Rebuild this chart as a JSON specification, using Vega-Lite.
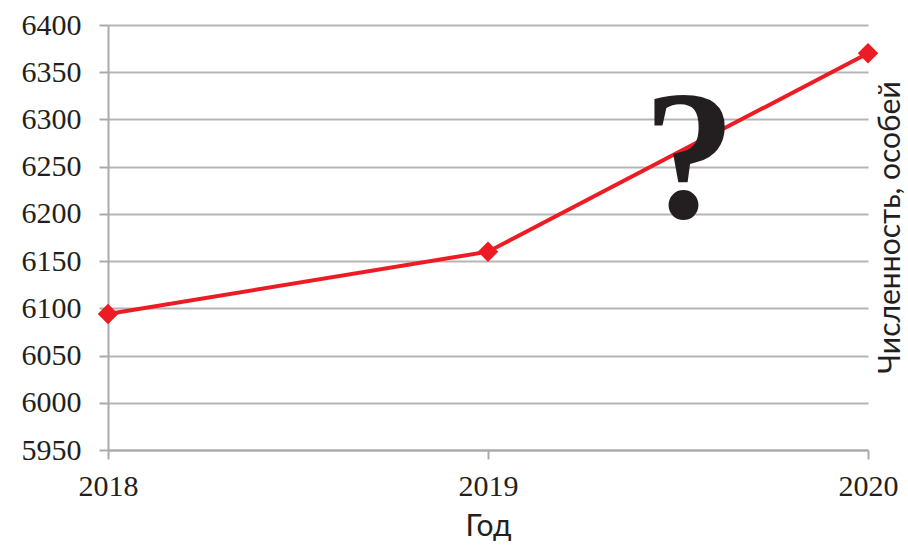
{
  "$schema": "https://vega.github.io/schema/vega-lite/v6.json",
  "width": 760,
  "height": 425,
  "autosize": "none",
  "padding": {"left": 108, "top": 25, "right": 40, "bottom": 97},
  "background": "white",
  "config": {
    "view": {"stroke": null},
    "axis": {"labelFont": "Liberation Serif", "labelFontSize": 30, "labelColor": "#231f20", "titleFont": "Lato", "titleFontWeight": "normal", "titleColor": "#231f20", "domainColor": "#aaaaaa", "domainWidth": 2, "tickColor": "#aaaaaa", "tickWidth": 2, "tickSize": 9, "gridColor": "#b5b5b5", "gridWidth": 2}
  },
  "data": {"values": [
    {"year": 2018, "count": 6094, "series": "pop"},
    {"year": 2019, "count": 6160, "series": "pop"},
    {"year": 2020, "count": 6370, "series": "pop"},
    {"year": 2019.53, "count": 6197, "series": "mark", "label": "?"}
  ]},
  "encoding": {
    "x": {
      "field": "year", "type": "quantitative",
      "scale": {"domain": [2018, 2020], "nice": false, "zero": false},
      "axis": {
        "tickCount": 2, "format": "d", "grid": false, "labelFlush": false, "labelOverlap": false,
        "title": "Год", "titleFontSize": 30, "titlePadding": 10, "labelPadding": 12
      }
    },
    "y": {
      "field": "count", "type": "quantitative",
      "scale": {"domain": [5950, 6400], "nice": false, "zero": false},
      "axis": {
        "tickCount": 9, "format": "d", "labelOverlap": false, "grid": true,
        "title": "Численность, особей", "titleFontSize": 30,
        "titleX": 782, "titleY": 202, "titleAngle": -90, "titleAlign": "center", "titleBaseline": "middle",
        "labelPadding": 18
      }
    }
  },
  "layer": [
    {
      "transform": [{"filter": "datum.series === 'pop'"}],
      "mark": {"type": "line", "color": "#ED1C24", "strokeWidth": 4, "point": {"shape": "diamond", "size": 420, "filled": true, "color": "#ED1C24", "opacity": 1}}
    },
    {
      "transform": [{"filter": "datum.series === 'mark'"}],
      "mark": {"type": "text", "font": "Liberation Serif", "fontWeight": "bold", "fontSize": 185, "color": "#231f20", "baseline": "alphabetic", "align": "center"},
      "encoding": {
        "text": {"field": "label"}
      }
    }
  ]
}
